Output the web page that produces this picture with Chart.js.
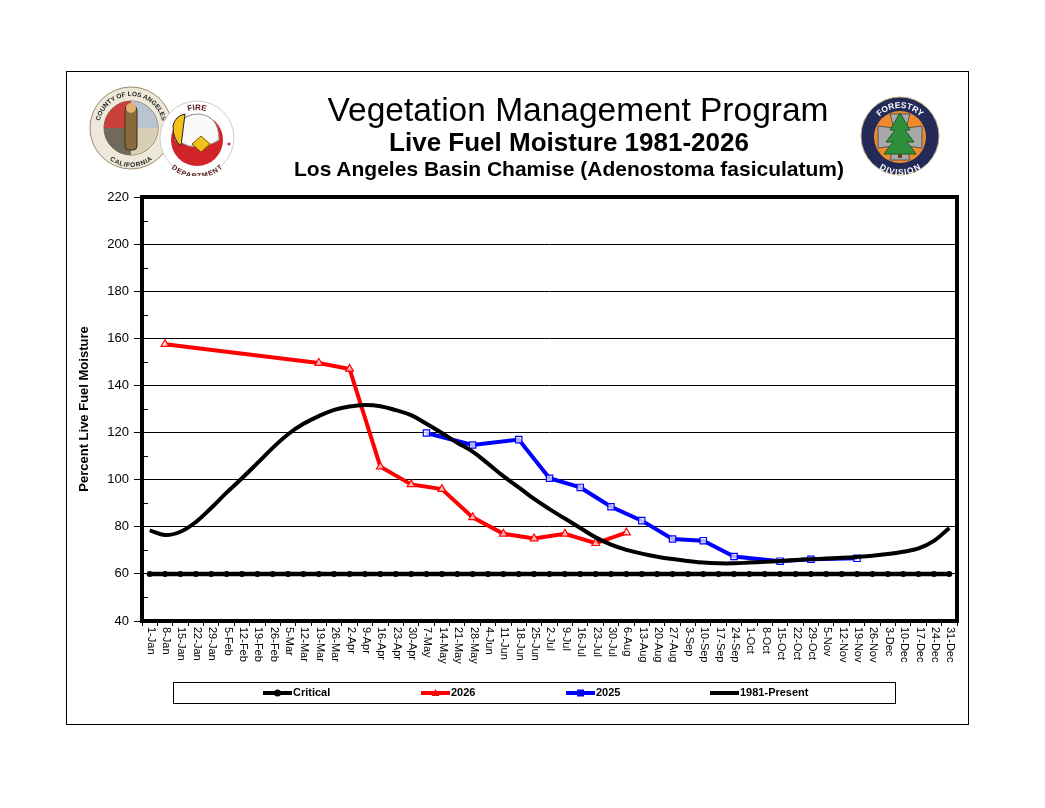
<!DOCTYPE html>
<html>
<head>
<meta charset="utf-8">
<title>Live Fuel Moisture - Los Angeles Basin Chamise</title>
<script src="https://cdn.jsdelivr.net/npm/chart.js@4.4.1/dist/chart.umd.min.js"></script>
<style>
  html, body { margin:0; padding:0; background:#fff; }
  body { width:1045px; height:808px; position:relative; overflow:hidden; font-family:"Liberation Sans", Arial, sans-serif; }
  #frame { position:absolute; left:66px; top:71px; width:901px; height:652px; border:1px solid #000; }
  #chart { position:absolute; left:0; top:0; }
  .t { position:absolute; left:300px; width:556px; text-align:center; color:#000; white-space:nowrap; }
  #t1 { top:91px; font-size:33.5px; }
  #t2 { top:127px; left:291px; font-size:26px; font-weight:bold; }
  #t3 { top:157px; left:291px; font-size:21px; font-weight:bold; }
  .logo { position:absolute; }
</style>
</head>
<body>
<div id="frame"></div>
<canvas id="chart" width="1045" height="808"></canvas>

<div class="t" id="t1">Vegetation Management Program</div>
<div class="t" id="t2">Live Fuel Moisture 1981-2026</div>
<div class="t" id="t3">Los Angeles Basin Chamise (Adenostoma fasiculatum)</div>

<!-- county seal -->
<svg class="logo" style="left:89px;top:86px" width="84" height="84" viewBox="0 0 84 84">
  <defs><path id="cTop" d="M10,42 A32,32 0 0 1 74,42"/><path id="cBot" d="M12,46 A30,30 0 0 0 72,46"/></defs>
  <circle cx="42" cy="42" r="41" fill="#eee8da" stroke="#9c8b6a"/>
  <circle cx="42" cy="42" r="27" fill="#f7f3ea" stroke="#6d5c3e"/>
  <path d="M15,42 A27,27 0 0 1 42,15 L42,42 Z" fill="#c9403a"/>
  <path d="M42,15 A27,27 0 0 1 69,42 L42,42 Z" fill="#b9c4cf"/>
  <path d="M15,42 A27,27 0 0 0 42,69 L42,42 Z" fill="#6f6a5a"/>
  <path d="M42,69 A27,27 0 0 0 69,42 L42,42 Z" fill="#d9cfb7"/>
  <rect x="36" y="20" width="12" height="44" rx="4" fill="#8a6a3c" stroke="#3b2e1a"/>
  <circle cx="42" cy="22" r="5" fill="#e0b070"/>
  <text font-size="6.5" font-weight="bold" fill="#222"><textPath href="#cTop" startOffset="50%" text-anchor="middle">COUNTY OF LOS ANGELES</textPath></text>
  <text font-size="6.5" font-weight="bold" fill="#222" dy="5"><textPath href="#cBot" startOffset="50%" text-anchor="middle">CALIFORNIA</textPath></text>
</svg>

<!-- fire department -->
<svg class="logo" style="left:159px;top:100px" width="76" height="76" viewBox="0 0 76 76">
  <defs><path id="fTop" d="M10,38 A28,28 0 0 1 66,38"/><path id="fBot" d="M6,40 A32,32 0 0 0 70,40"/></defs>
  <circle cx="38" cy="38" r="37" fill="#fff" stroke="#ccc"/>
  <circle cx="38" cy="40" r="26" fill="#d0232a"/>
  <path d="M16,40 Q18,14 40,14 Q60,16 60,40 Q48,48 30,46 Z" fill="#fafafa" stroke="#999"/>
  <path d="M14,26 Q16,16 26,14 L22,46 Q14,40 14,26 Z" fill="#f2c21b" stroke="#222"/>
  <path d="M33,44 L42,36 L51,44 L42,52 Z" fill="#f2c21b" stroke="#7a5a00"/>
  <circle cx="70" cy="44" r="1.5" fill="#d0232a"/>
  <text font-size="8" font-weight="bold" fill="#5a1a1a"><textPath href="#fTop" startOffset="50%" text-anchor="middle">FIRE</textPath></text>
  <text font-size="7" font-weight="bold" fill="#5a1a1a" dy="6"><textPath href="#fBot" startOffset="50%" text-anchor="middle">DEPARTMENT</textPath></text>
</svg>

<!-- forestry division -->
<svg class="logo" style="left:860px;top:96px" width="80" height="80" viewBox="0 0 80 80">
  <defs><path id="dTop" d="M12,40 A28,28 0 0 1 68,40"/><path id="dBot" d="M10,42 A30,30 0 0 0 70,42"/></defs>
  <circle cx="40" cy="40" r="39" fill="#232a57" stroke="#b9a77a"/>
  <circle cx="40" cy="41" r="26" fill="#ee8a2c"/>
  <path d="M30,18 L50,18 L46,32 L62,30 L62,52 L46,50 L50,64 L30,64 L34,50 L18,52 L18,30 L34,32 Z" fill="#a9a9a9" stroke="#555"/>
  <polygon points="40,17 30,34 35,34 26,46 33,46 24,58 56,58 47,46 54,46 45,34 50,34" fill="#2f8f3a" stroke="#1b5a24"/>
  <rect x="38" y="58" width="4" height="4" fill="#6b3d1c"/>
  <text font-size="8.5" font-weight="bold" fill="#fff"><textPath href="#dTop" startOffset="50%" text-anchor="middle">FORESTRY</textPath></text>
  <text font-size="8.5" font-weight="bold" fill="#fff" dy="7"><textPath href="#dBot" startOffset="50%" text-anchor="middle">DIVISION</textPath></text>
</svg>

<script>
// weekly category labels
const weeks = [
  '1-Jan','8-Jan','15-Jan','22-Jan','29-Jan','5-Feb','12-Feb','19-Feb','26-Feb',
  '5-Mar','12-Mar','19-Mar','26-Mar','2-Apr','9-Apr','16-Apr','23-Apr','30-Apr',
  '7-May','14-May','21-May','28-May','4-Jun','11-Jun','18-Jun','25-Jun',
  '2-Jul','9-Jul','16-Jul','23-Jul','30-Jul','6-Aug','13-Aug','20-Aug','27-Aug',
  '3-Sep','10-Sep','17-Sep','24-Sep','1-Oct','8-Oct','15-Oct','22-Oct','29-Oct',
  '5-Nov','12-Nov','19-Nov','26-Nov','3-Dec','10-Dec','17-Dec','24-Dec','31-Dec'
];

const yTicksMin = 40, yTicksMax = 220, yStep = 20;

// critical threshold, one value per week
const critical = [
  60,60,60,60,60,60,60,60,60,60,60,60,60,60,60,60,60,60,
  60,60,60,60,60,60,60,60,60,60,60,60,60,60,60,60,60,60,
  60,60,60,60,60,60,60,60,60,60,60,60,60,60,60,60,60
];

// 2026 samples
const dates2026 = ['8-Jan','19-Mar','2-Apr','16-Apr','30-Apr','14-May','28-May','11-Jun','25-Jun','9-Jul','23-Jul','6-Aug'];
const values2026 = [157.5, 149.5, 147, 105.5, 98, 96, 84, 77, 75, 77, 73, 77.5];

// 2025 samples
const dates2025 = ['7-May','28-May','18-Jun','2-Jul','16-Jul','30-Jul','13-Aug','27-Aug','10-Sep','24-Sep','15-Oct','29-Oct','19-Nov'];
const values2025 = [119.8, 114.7, 117, 100.6, 96.7, 88.5, 82.6, 74.8, 74.1, 67.4, 65.4, 66.2, 66.6];

// 1981-present weekly average
const average = [
  78.5, 76.5, 77.9, 82, 88, 94.5, 100.6, 107, 113.5, 119.3,
  123.7, 127, 129.6, 131.1, 131.7, 131.2, 129.5, 127.4, 123.7, 119.8,
  115.7, 111.9, 106.8, 101.5, 96.7, 91.8, 87.5, 83.5, 79.5, 75.5,
  72.4, 70.2, 68.6, 67.3, 66.3, 65.5, 64.8, 64.5, 64.5, 64.8,
  65.1, 65.5, 65.9, 66.2, 66.5, 66.8, 67.2, 67.7, 68.4, 69.4,
  70.8, 74, 79.5
];

const FONT = '"Liberation Sans", Arial, sans-serif';

// spread sparse samples onto the weekly axis
function onWeeks(dates, values){
  return weeks.map(w => { const k = dates.indexOf(w); return k < 0 ? null : values[k]; });
}

// plot frame, minor ticks, rotated week labels, boxed legend
const decor = {
  id: 'decor',
  afterDraw(chart){
    const ctx = chart.ctx, a = chart.chartArea;
    const x = chart.scales.x, y = chart.scales.y;
    ctx.save();

    // minor ticks on left side
    ctx.strokeStyle = '#000'; ctx.lineWidth = 1;
    for(let v = yTicksMin + yStep/2; v < yTicksMax; v += yStep){
      const py = Math.round(y.getPixelForValue(v)) + 0.5;
      ctx.beginPath(); ctx.moveTo(a.left, py); ctx.lineTo(a.left + 6, py); ctx.stroke();
    }

    // thick plot border
    ctx.lineWidth = 4;
    ctx.strokeRect(a.left, a.top, a.right - a.left, a.bottom - a.top);

    // week labels read top to bottom
    ctx.fillStyle = '#000';
    ctx.font = '11px ' + FONT;
    ctx.textAlign = 'left'; ctx.textBaseline = 'middle';
    weeks.forEach((w, i) => {
      ctx.save();
      ctx.translate(x.getPixelForValue(i) + 1, a.bottom + 6);
      ctx.rotate(Math.PI/2);
      ctx.fillText(w, 0, 0);
      ctx.restore();
    });

    // legend
    ctx.lineWidth = 1;
    ctx.strokeRect(173.5, 682.5, 722, 21);
    const starts = [263, 421, 566, 710];
    const cy = 693;
    ctx.font = 'bold 11px ' + FONT;
    chart.data.datasets.forEach((ds, i) => {
      const sx = starts[i];
      ctx.strokeStyle = ds.borderColor; ctx.lineWidth = 4;
      ctx.beginPath(); ctx.moveTo(sx, cy); ctx.lineTo(sx + 29, cy); ctx.stroke();
      const mx = sx + 14.5;
      ctx.fillStyle = ds.borderColor; ctx.lineWidth = 1;
      if(ds.pointStyle === 'circle' && ds.pointRadius){
        ctx.beginPath(); ctx.arc(mx, cy, 3.5, 0, Math.PI*2); ctx.fill();
      } else if(ds.pointStyle === 'triangle'){
        ctx.beginPath(); ctx.moveTo(mx, cy - 4); ctx.lineTo(mx + 4, cy + 3); ctx.lineTo(mx - 4, cy + 3); ctx.closePath(); ctx.fill();
      } else if(ds.pointStyle === 'rect'){
        ctx.fillRect(mx - 3.5, cy - 3.5, 7, 7);
      }
      ctx.fillStyle = '#000';
      ctx.fillText(ds.label, sx + 30, cy);
    });
    ctx.restore();
  }
};

new Chart(document.getElementById('chart'), {
  type: 'line',
  data: {
    labels: weeks,
    datasets: [
      { label: 'Critical', data: critical, borderColor: '#000000', backgroundColor: '#000000',
        borderWidth: 4.5, pointStyle: 'circle', pointRadius: 3, pointBackgroundColor: '#000', pointBorderWidth: 0, order: 4 },
      { label: '2026', data: onWeeks(dates2026, values2026), borderColor: '#ff0000', backgroundColor: '#ff0000',
        borderWidth: 4, spanGaps: true, tension: 0, pointStyle: 'triangle', pointRadius: 4.5,
        pointBackgroundColor: 'rgba(255,255,255,0.7)', pointBorderColor: '#ff0000', pointBorderWidth: 1.2, order: 3 },
      { label: '2025', data: onWeeks(dates2025, values2025), borderColor: '#0000ff', backgroundColor: '#0000ff',
        borderWidth: 4, spanGaps: true, tension: 0, pointStyle: 'rect', pointRadius: 4.5,
        pointBackgroundColor: 'rgba(255,255,255,0.7)', pointBorderColor: '#0000ff', pointBorderWidth: 1.2, order: 2 },
      { label: '1981-Present', data: average, borderColor: '#000000', backgroundColor: '#000000',
        borderWidth: 4, pointRadius: 0, tension: 0.4, order: 1 }
    ]
  },
  options: {
    responsive: false,
    animation: false,
    devicePixelRatio: 1,
    layout: { padding: { left: 76, top: 197, right: 88, bottom: 127 } },
    plugins: { legend: { display: false }, tooltip: { enabled: false } },
    scales: {
      x: {
        offset: true,
        grid: { offset: true, drawOnChartArea: false, drawTicks: true, tickLength: 5, color: '#000' },
        border: { display: false },
        ticks: { display: false, autoSkip: false },
        afterFit(s){ s.height = 60; s.paddingLeft = 0; s.paddingRight = 0; }
      },
      y: {
        min: yTicksMin, max: yTicksMax,
        ticks: { stepSize: yStep, color: '#000', padding: 5, font: { family: FONT, size: 13 } },
        grid: { color: '#000', lineWidth: 1, tickLength: 8 },
        border: { display: false },
        title: { display: true, text: 'Percent Live Fuel Moisture', color: '#000',
                 font: { family: FONT, size: 13, weight: 'bold' }, padding: { top: 1, bottom: 0 } },
        afterFit(s){ s.width = 66; s.paddingTop = 0; s.paddingBottom = 0; }
      }
    }
  },
  plugins: [decor]
});
</script>
</body>
</html>
